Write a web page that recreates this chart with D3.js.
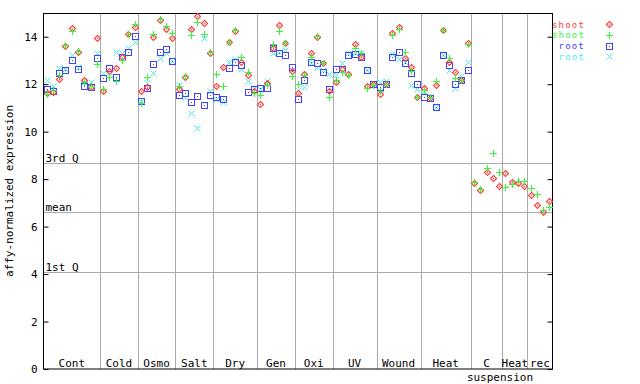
<!DOCTYPE html>
<html><head><meta charset="utf-8">
<script src="https://cdn.jsdelivr.net/npm/d3@7"></script>
<style>
body{margin:0;background:#fff;}
text{font-family:"DejaVu Sans Mono",monospace;font-size:11px;}
</style></head>
<body><svg id="c" width="640" height="384"></svg>
<script>
// groups (category name, number of samples)
const groupNames = ["Cont","Cold","Osmo","Salt","Dry","Gen","Oxi","UV","Wound","Heat","C","Heat","rec"];
const groupSizes = [9,6,6,6,7,6,6,7,7,8,5,4,4];
const subLabel = "suspension";
// series values per sample index (0..80)
const shoot1 = [11.62,11.69,12.22,13.63,14.36,13.35,12.16,11.87,13.93,11.70,12.57,12.67,13.16,14.10,14.43,11.72,11.88,13.98,14.71,14.31,13.96,11.80,12.32,14.31,14.88,14.57,13.30,11.93,12.74,13.79,14.26,12.95,12.40,11.72,11.15,12.04,13.51,14.50,13.72,12.56,11.63,12.42,13.30,14.00,12.88,11.72,12.11,12.63,12.42,13.70,13.13,11.93,12.00,11.59,12.00,14.17,14.40,13.12,12.71,11.48,11.83,11.41,11.97,14.29,12.95,12.50,12.18,13.72,7.83,7.55,8.29,8.04,7.71,8.25,7.88,7.83,7.70,7.32,6.90,6.62,7.08];
const shoot2 = [11.58,11.75,12.39,13.66,14.26,13.40,12.10,11.93,12.85,11.80,12.30,12.14,13.02,14.12,14.53,11.19,12.31,14.10,14.73,14.45,14.15,11.92,12.34,14.07,14.64,14.12,13.34,12.43,11.93,13.79,14.29,13.16,12.53,11.62,11.55,11.97,13.68,14.26,13.72,12.36,12.01,12.38,13.16,14.03,12.90,11.45,12.18,12.53,12.40,13.51,13.33,11.83,11.95,11.70,12.02,14.07,14.31,13.34,12.55,11.45,11.76,11.45,12.14,14.29,13.09,12.25,12.18,13.68,7.89,7.57,8.46,9.09,8.29,7.66,7.78,7.91,7.91,7.61,7.37,6.70,6.81];
const root1 = [11.80,11.72,12.46,12.60,13.02,12.64,11.93,11.87,13.09,12.27,12.67,12.29,13.13,13.34,14.03,11.30,11.85,12.85,13.37,13.49,12.98,11.55,11.62,11.24,11.50,11.13,11.55,11.45,11.37,12.67,12.92,12.81,11.67,11.79,11.86,11.83,13.51,13.30,13.23,12.71,11.38,12.18,12.92,12.88,12.50,11.80,12.63,12.63,13.23,13.27,13.13,12.60,12.01,11.87,12.01,13.13,13.34,12.88,12.46,12.01,11.47,11.41,11.03,13.23,12.81,12.01,12.18,12.60];
const root2 = [12.18,11.92,12.67,12.63,13.23,12.71,12.08,12.10,13.30,12.49,12.53,13.34,13.30,13.51,13.79,11.31,12.07,12.46,13.12,13.30,12.98,11.97,11.45,10.78,10.14,13.93,11.72,11.37,11.24,12.95,13.05,12.64,12.14,11.83,11.80,12.12,13.30,13.35,13.44,12.60,11.76,11.90,12.88,12.71,12.60,12.42,12.39,12.88,13.30,13.30,13.33,12.60,12.05,12.10,12.15,13.27,13.05,12.95,11.97,11.79,11.72,11.45,11.03,13.23,12.60,11.83,12.35,12.92];
const refLines = [{label:"3rd Q", v:8.67},{label:"mean", v:6.60},{label:"1st Q", v:4.10}];
const yTicks = [0,2,4,6,8,10,12,14];
const seriesNames = ["shoot","shoot","root","root"];

const svg = d3.select("#c");
const N = d3.sum(groupSizes);
const x = d3.scaleLinear().domain([-0.5, N-0.5]).range([43.5, 552.5]);
const y = d3.scaleLinear().domain([0,15]).range([369,13]);

const colors = ["#ff4040","#40f040","#4040ff","#40f0f0"];

// reference lines
refLines.forEach(r=>{
  svg.append("line").attr("x1",x(-0.5)).attr("x2",x(N-0.5)).attr("y1",Math.round(y(r.v))+0.5).attr("y2",Math.round(y(r.v))+0.5)
    .attr("stroke","#aaaaaa").attr("stroke-width",1);
  svg.append("text").attr("x",x(-0.5)+2).attr("y",Math.round(y(r.v))-1).text(r.label).attr("fill","#000");
});

// group separators and labels
let start = 0;
const bounds = [];
groupSizes.forEach((s,i)=>{ bounds.push([start, start+s-1]); start += s; });
bounds.forEach((b,i)=>{
  if(i>0){
    const xs = Math.round(x(b[0]-0.5))+0.5;
    svg.append("line").attr("x1",xs).attr("x2",xs).attr("y1",y(15)).attr("y2",y(0)).attr("stroke","#aaaaaa");
  }
  const cx = (x(b[0]-0.5)+x(b[1]+0.5))/2;
  svg.append("text").attr("x",cx).attr("y",367).attr("text-anchor","middle").text(groupNames[i]);
});
svg.append("text").attr("x",500).attr("y",381).attr("text-anchor","middle").text(subLabel);

// frame
svg.append("rect").attr("x",43.5).attr("y",13.5).attr("width",509).attr("height",355.5).attr("fill","none").attr("stroke","#000");

// axes
const yl = svg.append("g").attr("transform","translate(43.5,0)")
  .call(d3.axisLeft(y).tickValues(yTicks).tickSize(-5).tickPadding(6).tickFormat(d3.format("d")));
const yr = svg.append("g").attr("transform","translate(552.5,0)")
  .call(d3.axisRight(y).tickValues(yTicks).tickSize(-5).tickFormat(""));
[yl,yr].forEach(g=>{ g.select(".domain").remove(); g.selectAll("line").attr("stroke","#000");
  g.selectAll("text").attr("font-family","DejaVu Sans Mono").attr("font-size","11px").attr("fill","#000"); });

svg.append("text").attr("transform","translate(13,191) rotate(-90)").attr("text-anchor","middle").text("affy-normalized expression");

// markers
function marker(g, type, cx, cy, col){
  cx = Math.round(cx)+0.5; cy = Math.round(cy)+0.5;
  if(type===0){
    g.append("path").attr("d",`M${cx},${cy-3}L${cx+3},${cy}L${cx},${cy+3}L${cx-3},${cy}Z`).attr("fill","none").attr("stroke",col).attr("stroke-width",1.2);
    g.append("rect").attr("x",cx-0.5).attr("y",cy-0.5).attr("width",1).attr("height",1).attr("fill",col);
  } else if(type===1){
    g.append("path").attr("d",`M${cx-3.5},${cy}H${cx+3.5}M${cx},${cy-3.5}V${cy+3.5}`).attr("stroke",col).attr("stroke-width",1.2);
  } else if(type===2){
    g.append("rect").attr("x",cx-3).attr("y",cy-3).attr("width",6).attr("height",6).attr("fill","none").attr("stroke",col).attr("stroke-width",1);
    g.append("rect").attr("x",cx-0.5).attr("y",cy-0.5).attr("width",1).attr("height",1).attr("fill",col);
  } else {
    g.append("path").attr("d",`M${cx-3},${cy-3}L${cx+3},${cy+3}M${cx-3},${cy+3}L${cx+3},${cy-3}`).attr("stroke",col).attr("stroke-width",1);
  }
}
const allSeries = [shoot1, shoot2, root1, root2];
const order = [3,2,0,1];
order.forEach(si=>{
  const g = svg.append("g");
  allSeries[si].forEach((v,i)=>{ if(v!=null) marker(g, si, x(i), y(v), colors[si]); });
});

// legend
seriesNames.forEach((n,i)=>{
  const yy = 24 + i*10.8;
  svg.append("text").attr("x",585).attr("y",yy+3.5).attr("text-anchor","end").attr("fill",colors[i])
    .style("font-size","9px").style("letter-spacing","1.2px").text(n);
  marker(svg.append("g"), i, 609, yy, colors[i]);
});
</script></body></html>
